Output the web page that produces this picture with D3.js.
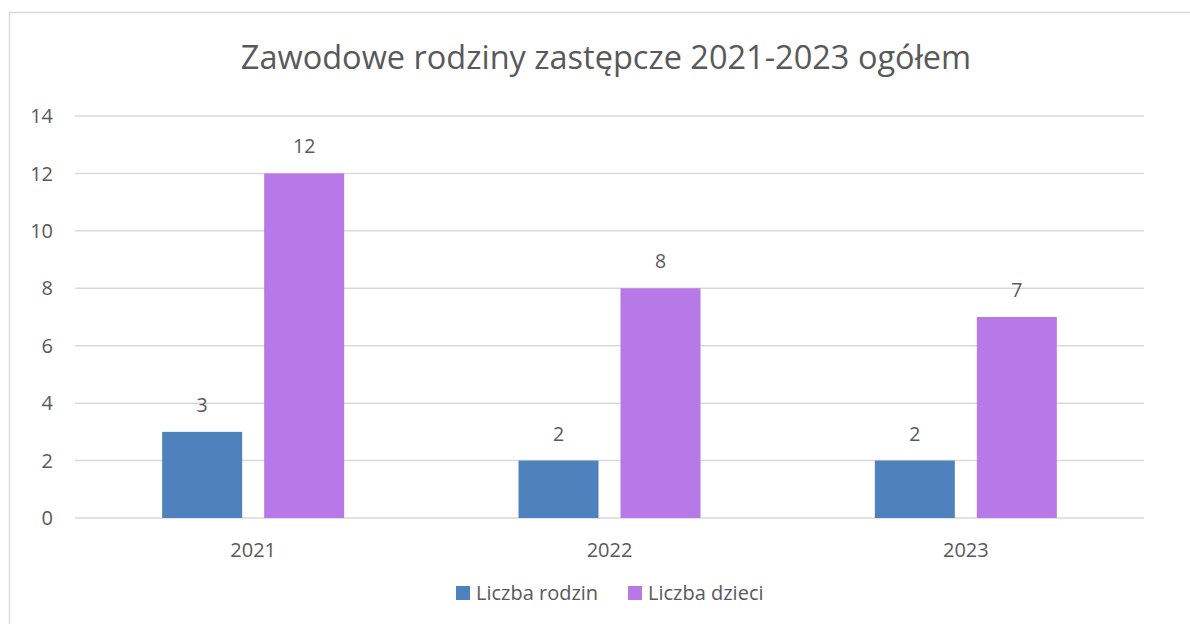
<!DOCTYPE html>
<html>
<head>
<meta charset="utf-8">
<script src="https://cdn.jsdelivr.net/npm/d3@7"></script>
<style>
  body { margin: 0; background: #fff; }
  svg text { font-family: "Open Sans", "Liberation Sans", sans-serif; fill: #595959; }
</style>
</head>
<body>
<svg id="chart" width="1190" height="624"></svg>
<script>
const years = ['2021', '2022', '2023'];
const seriesNames = ['Liczba rodzin', 'Liczba dzieci'];
const rodziny = [3, 2, 2];
const dzieci = [12, 8, 7];
const yTicks = [0, 2, 4, 6, 8, 10, 12, 14];
const colors = ['#4f81bd', '#b778e8'];

const svg = d3.select('#chart');
const m = { t: 116, r: 46, b: 106, l: 75 };
const w = 1190 - m.l - m.r, h = 624 - m.t - m.b;

// outer frame
svg.append('rect')
    .attr('x', 9.5).attr('y', 12.5)
    .attr('width', 1190).attr('height', 640)
    .attr('fill', 'none').attr('stroke', '#d9d9d9').attr('stroke-width', 1.5);

svg.append('text')
    .attr('x', 606).attr('y', 69)
    .attr('text-anchor', 'middle')
    .style('font-size', '32.5px')
    .text('Zawodowe rodziny zastępcze 2021-2023 ogółem');

const g = svg.append('g').attr('transform', `translate(${m.l},${m.t})`);

const x = d3.scaleBand().domain(years).range([0, w]);
const x1 = d3.scaleBand().domain(seriesNames).range([0, 182]).paddingInner(0.2157);
const y = d3.scaleLinear().domain([0, 14]).range([h, 0]);

g.selectAll('.grid').data(yTicks).enter().append('line')
    .attr('x1', 0).attr('x2', w)
    .attr('y1', d => y(d)).attr('y2', d => y(d))
    .attr('stroke', '#d9d9d9').attr('stroke-width', 1.5);

g.selectAll('.ytick').data(yTicks).enter().append('text')
    .attr('x', -22).attr('y', d => y(d)).attr('dy', '0.36em')
    .attr('text-anchor', 'end')
    .style('font-size', '20px')
    .text(d => d);

g.selectAll('.xtick').data(years).enter().append('text')
    .attr('x', d => x(d) + x.bandwidth() / 2).attr('y', h + 39)
    .attr('text-anchor', 'middle')
    .style('font-size', '20px')
    .text(d => d);

const rows = years.map((yr, i) => ({ yr, vals: [rodziny[i], dzieci[i]] }));
const groups = g.selectAll('.grp').data(rows).enter().append('g')
    .attr('transform', d => `translate(${x(d.yr) + (x.bandwidth() - 182) / 2},0)`);

groups.selectAll('rect').data(d => d.vals.map((v, k) => ({ v, k }))).enter().append('rect')
    .attr('x', d => x1(seriesNames[d.k]))
    .attr('width', x1.bandwidth())
    .attr('y', d => y(d.v))
    .attr('height', d => h - y(d.v))
    .attr('fill', d => colors[d.k]);

groups.selectAll('.lbl').data(d => d.vals.map((v, k) => ({ v, k }))).enter().append('text')
    .attr('x', d => x1(seriesNames[d.k]) + x1.bandwidth() / 2)
    .attr('y', d => y(d.v) - 20)
    .attr('text-anchor', 'middle')
    .style('font-size', '19.5px')
    .text(d => d.v);

// legend
const legendX = [456, 628];
const leg = svg.selectAll('.leg').data(seriesNames).enter().append('g')
    .attr('transform', (d, i) => `translate(${legendX[i]},586)`);
leg.append('rect').attr('width', 14).attr('height', 14).attr('fill', (d, i) => colors[i]);
leg.append('text').attr('x', 20).attr('y', 7).attr('dy', '0.36em')
    .style('font-size', '20px').text(d => d);
</script>
</body>
</html>
